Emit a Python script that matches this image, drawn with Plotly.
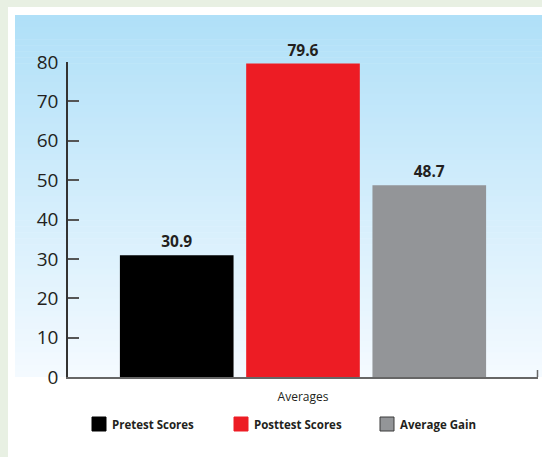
import plotly.graph_objects as go

categories = ["Averages"]
series_names = ["Pretest Scores", "Posttest Scores", "Average Gain"]
series_values = [30.9, 79.6, 48.7]
series_colors = ["#000000", "#ed1c24", "#939598"]
y_ticks = [0, 10, 20, 30, 40, 50, 60, 70, 80]

W, H = 542, 457
L, R, T, B = 68, 4, 62, 80
PW, PH = W - L - R, H - T - B


def px_x(x):
    return (x - L) / PW


def px_y(y):
    return (H - B - y) / PH


fig = go.Figure()
for name, val, col in zip(series_names, series_values, series_colors):
    fig.add_trace(go.Bar(
        x=categories, y=[val], name=name,
        marker=dict(color=col, line=dict(width=0)),
        texttemplate="%{y:.1f}", textposition="outside",
        textfont=dict(family="Open Sans", size=15.5, color="#231f20", weight="bold"),
        cliponaxis=False, showlegend=False,
    ))

shapes = []
# white panel
shapes.append(dict(type="rect", xref="paper", yref="paper", layer="below",
                   x0=px_x(8), x1=px_x(W + 2), y0=px_y(H + 2), y1=px_y(7),
                   fillcolor="#ffffff", line=dict(width=0)))
# gradient background
top = (176, 224, 248)
bot = (244, 250, 255)
n = 60
g_top, g_bot = 15, 377
for i in range(n):
    t = i / (n - 1)
    c = tuple(round(top[k] + (bot[k] - top[k]) * t) for k in range(3))
    y0 = g_top + (g_bot - g_top) * i / n
    y1 = g_top + (g_bot - g_top) * (i + 1) / n + 0.6
    shapes.append(dict(type="rect", xref="paper", yref="paper", layer="below",
                       x0=px_x(15), x1=px_x(W + 2), y0=px_y(min(y1, g_bot)), y1=px_y(y0),
                       fillcolor="rgb(%d,%d,%d)" % c, line=dict(width=0)))
# small end tick on x axis
shapes.append(dict(type="line", xref="paper", yref="paper",
                   x0=px_x(537.5), x1=px_x(537.5), y0=px_y(377), y1=px_y(370),
                   line=dict(color="#666666", width=1.5)))

# custom legend
legend_x = [92, 234, 380]
annotations = []
for name, col, lx in zip(series_names, series_colors, legend_x):
    shapes.append(dict(type="rect", xref="paper", yref="paper",
                       x0=px_x(lx), x1=px_x(lx + 14), y0=px_y(431), y1=px_y(417),
                       fillcolor=col,
                       line=dict(color="#3a3a3a" if col == "#939598" else col, width=1)))
    annotations.append(dict(xref="paper", yref="paper", x=px_x(lx + 18), y=px_y(424),
                            xanchor="left", yanchor="middle", showarrow=False,
                            text=name,
                            font=dict(family="Open Sans", size=11.5, color="#231f20", weight="bold")))

fig.update_layout(
    width=W, height=H,
    margin=dict(l=L, r=R, t=T, b=B, pad=0),
    paper_bgcolor="#e8f0e3",
    plot_bgcolor="rgba(0,0,0,0)",
    barmode="group", bargap=0.194, bargroupgap=0.10,
    showlegend=False,
    shapes=shapes, annotations=annotations,
    xaxis=dict(type="category", showline=True, linecolor="#666666", linewidth=2,
               ticks="", showgrid=False, zeroline=False, ticklabelstandoff=8,
               tickfont=dict(family="Open Sans", size=12, color="#231f20")),
    yaxis=dict(range=[0, 80], tickvals=y_ticks, showline=True, linecolor="#333333",
               linewidth=1.5, ticks="inside", ticklen=11, tickwidth=1.5, tickcolor="#555555",
               showgrid=False, zeroline=False, ticklabelstandoff=4,
               tickfont=dict(family="Open Sans", size=19, color="#231f20")),
)

fig.write_html("out.html")
